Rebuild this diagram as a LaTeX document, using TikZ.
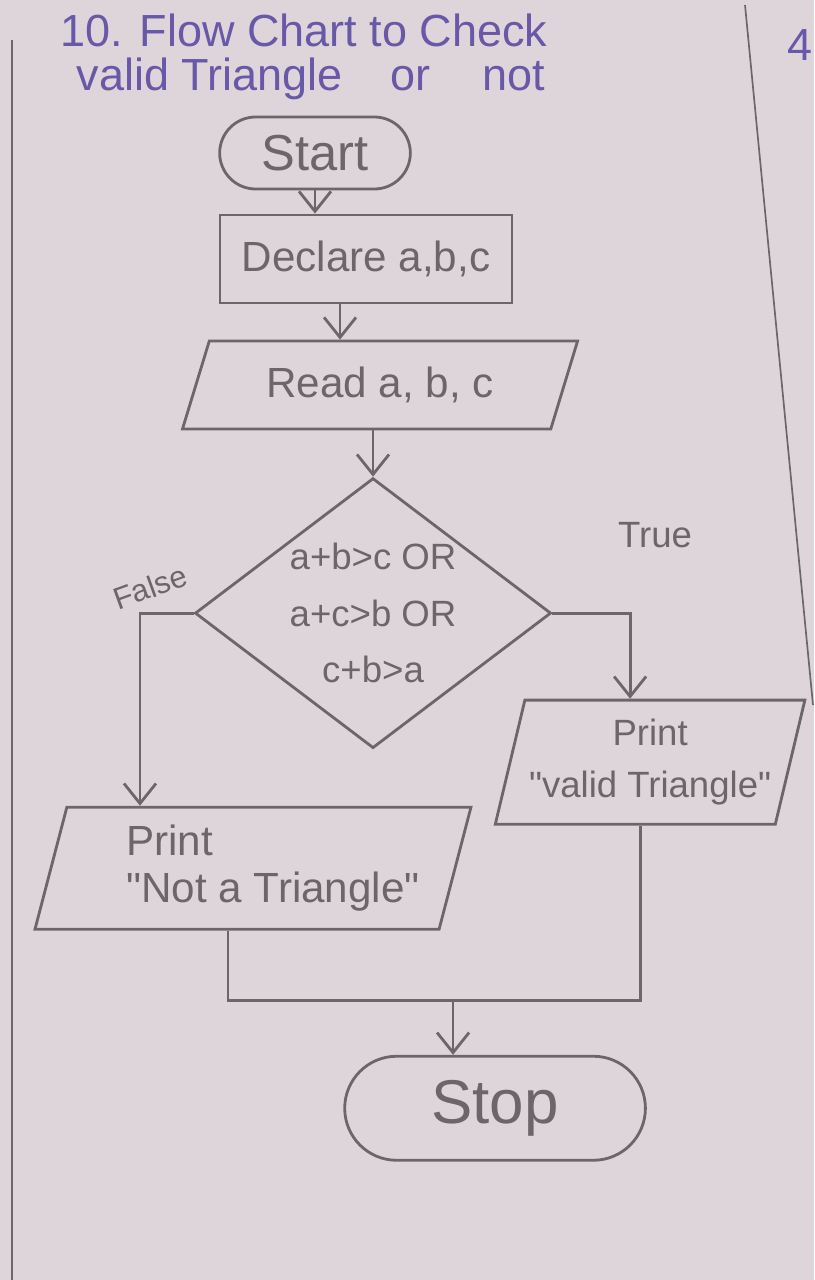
\documentclass[tikz,border=0pt]{standalone}
\usepackage{fontspec}
\setmainfont{Liberation Sans}
\usetikzlibrary{shapes,arrows.meta,positioning}

\definecolor{papel}{RGB}{222,213,218}
\definecolor{lapiz}{RGB}{108,102,106}
\definecolor{tinta}{RGB}{104,88,168}

\begin{document}
\begin{tikzpicture}[
      x=0.025cm,
      y=-0.025cm,
      line width=2pt,
      color=lapiz,
      auto
    ]

    \tikzstyle{terminal} = [
        rounded rectangle,
        draw,
        minimum width=5cm,
        minimum height=1.8cm,
        font=\fontsize{36}{40}\selectfont
    ]

    \tikzstyle{block} = [
        rectangle,
        draw,
        minimum width=7.3cm,
        minimum height=2.2cm,
        font=\fontsize{30}{34}\selectfont
    ]

    \tikzstyle{io} = [
        trapezium,
        draw,
        trapezium stretches=true,
        trapezium left angle=72,
        trapezium right angle=108,
        inner sep=1pt,
        font=\fontsize{30}{34}\selectfont
    ]

    \tikzstyle{decision} = [
        diamond,
        draw,
        aspect=1.32,
        inner sep=0pt,
        minimum width=8.9cm,
        minimum height=6.75cm,
        align=center,
        font=\fontsize{26}{40}\selectfont
    ]

    \tikzstyle{etiqueta} = [
        font=\fontsize{26}{30}\selectfont
    ]

    \tikzstyle{line} = [
        draw,
        -{Straight Barb[length=5mm,width=8mm]}
    ]

    % hoja
    \fill [papel] (0,0) rectangle (814,1280);
    \useasboundingbox (0,0) rectangle (814,1280);
    \draw [line width=1.2pt] (12,40) -- (12,1280);
    \draw [line width=1.2pt] (745,5) -- (813,705);

    \node [terminal] at (315,153)                                          (start) {Start};
    \node [above of=start, node distance=2.4cm, xshift=-0.275cm, align=left,
           text=tinta, font=\fontsize{32}{31}\selectfont]                  (titulo) {10. Flow Chart to Check\\\hspace*{0.4cm}valid Triangle\hspace{1.2cm}or\hspace{1.3cm}not};
    \node [right of=titulo, node distance=12.4cm, yshift=0.3cm,
           text=tinta, font=\fontsize{32}{36}\selectfont]                  (pagina) {4};

    \node [block, below of=start, node distance=2.65cm, xshift=1.275cm]    (declare) {Declare a,b,c};
    \node [io, below of=declare, node distance=3.15cm, xshift=0.35cm,
           trapezium left angle=65, trapezium right angle=115,
           minimum width=9.9cm, minimum height=2.2cm]                      (read) {Read a, b, c};
    \node [decision, below of=read, node distance=5.7cm, xshift=-0.175cm]  (decision) {a+b>c OR\\a+c>b OR\\c+b>a};

    \node [io, right of=decision, node distance=6.925cm, yshift=-3.725cm,
           minimum width=7.75cm, minimum height=3.1cm, align=center,
           font=\fontsize{26}{37}\selectfont]                              (valid) {Print\\\textquotedbl valid Triangle\textquotedbl};
    \node [io, below of=decision, node distance=6.375cm, xshift=-3cm,
           minimum width=10.9cm, minimum height=3.05cm, align=left,
           font=\fontsize{30}{33}\selectfont]                              (notp) {\hspace*{1cm}Print\\\hspace*{1cm}\textquotedbl Not a Triangle\textquotedbl};

    \node [etiqueta, right of=decision, node distance=7.05cm, yshift=1.95cm] (verdadero) {True};
    \node [etiqueta, left of=decision, node distance=5.575cm, yshift=0.65cm,
           rotate=20, font=\fontsize{22}{26}\selectfont]                   (falso) {False};

    \coordinate [below of=notp, node distance=3.3cm, xshift=5cm]           (merge);
    \node [terminal, below of=merge, node distance=2.7cm, xshift=1.05cm,
           minimum width=7.75cm, minimum height=2.6cm,
           font=\fontsize{44}{48}\selectfont]                              (stop) {Stop};

    \path [line] (start.south) -- (start.south |- declare.north);
    \path [line] ([xshift=-0.65cm]declare.south) -- ([xshift=-0.65cm]declare.south |- read.north);
    \path [line] (read.south -| decision.north) -- (decision.north);
    \path [line] (decision.east) -| ([xshift=-0.5cm]valid.north);
    \path [line] (decision.west) -| ([xshift=-2.825cm]notp.north);

    \draw ([xshift=-0.625cm]notp.south) |- (merge) -| ([xshift=-0.25cm]valid.south);
    \path [line] (merge) -- (merge |- stop.north);

    \end{tikzpicture}
\end{document}
